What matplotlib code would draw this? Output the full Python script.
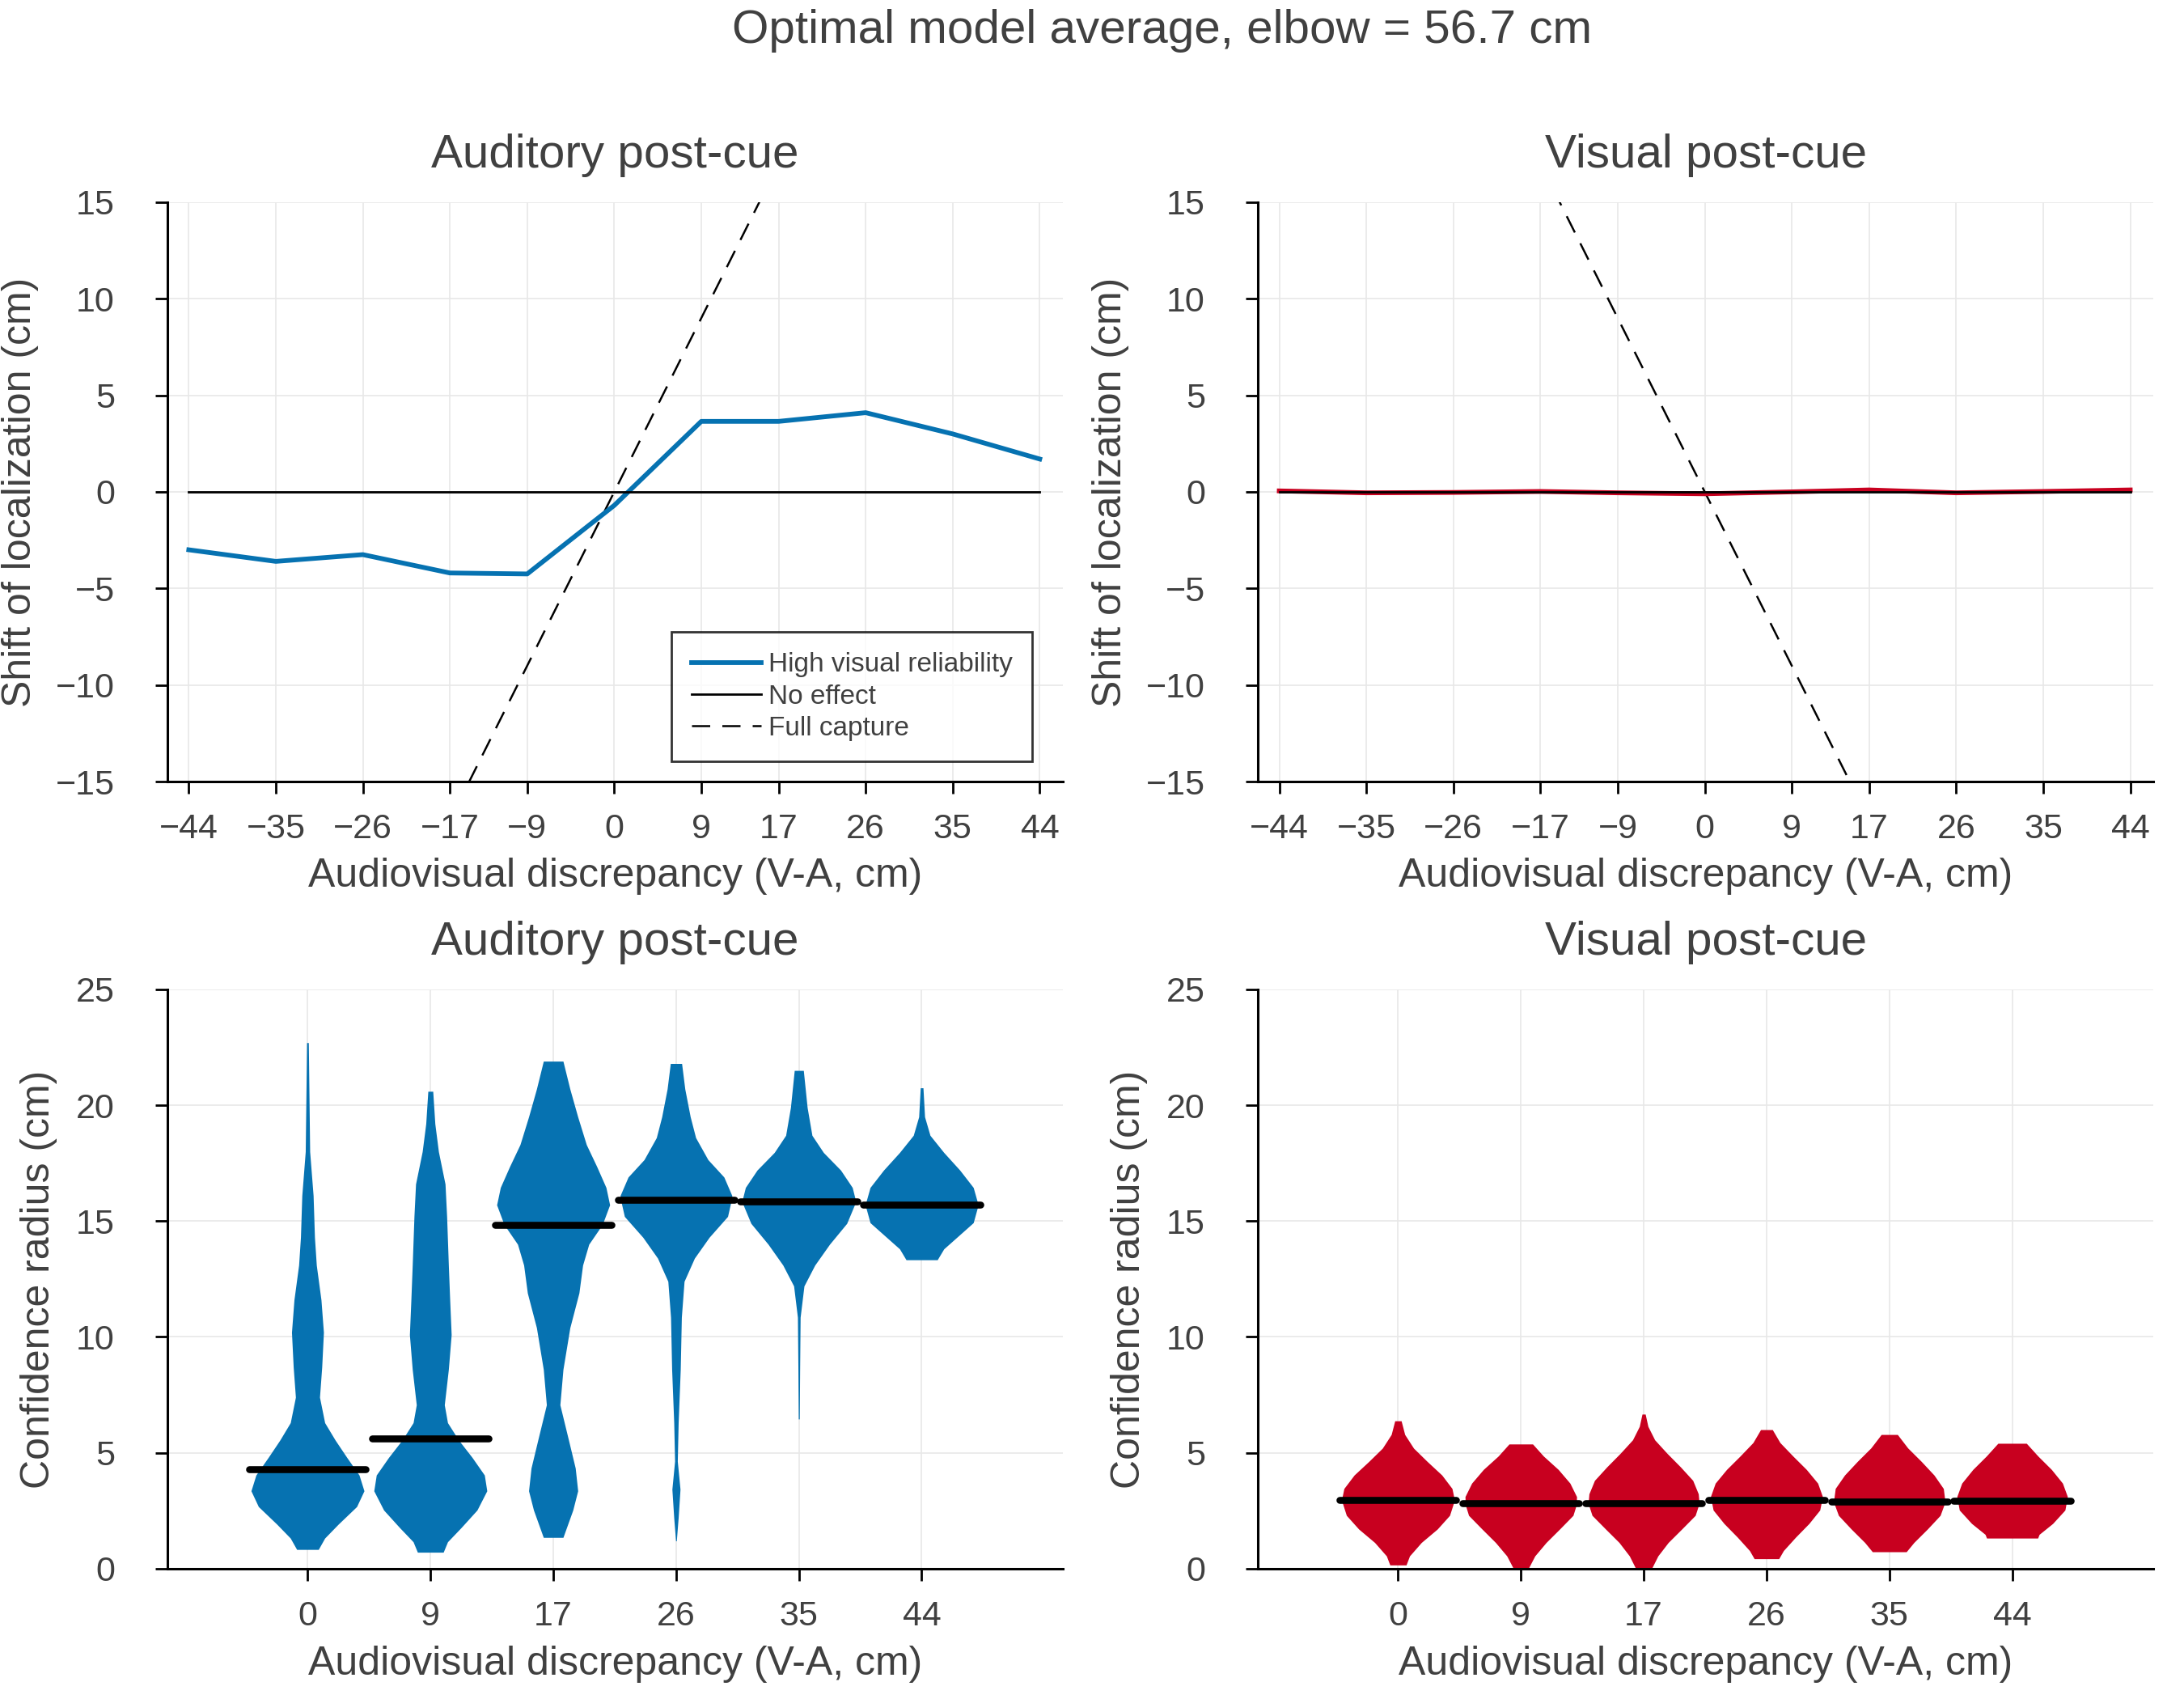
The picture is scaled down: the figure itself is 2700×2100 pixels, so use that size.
import numpy as np
import matplotlib
matplotlib.use("Agg")
import matplotlib.pyplot as plt

plt.rcParams['font.family'] = ['Liberation Sans', 'DejaVu Sans']

# --- data ---
discrepancy = [-44, -35, -26, -17, -9, 0, 9, 17, 26, 35, 44]
shift_aud = [-3.0, -3.6, -3.25, -4.2, -4.25, -0.7, 3.65, 3.65, 4.1, 3.0, 1.7]
shift_vis = [0.05, -0.05, -0.03, 0.02, -0.05, -0.1, 0.0, 0.1, -0.05, 0.02, 0.1]

violin_labels = ['0', '9', '17', '26', '35', '44']

# violin outlines: confidence radius levels and half widths (in x units)
aud_y = [
    [0.83, 1.32, 1.92, 2.68, 3.36, 4.04, 4.8, 5.55, 6.3, 7.4, 8.7, 10.2, 11.6, 13.1, 14.3, 16.1, 18.0, 22.7],
    [0.71, 1.16, 1.77, 2.53, 3.36, 4.04, 4.8, 5.55, 6.3, 7.07, 8.6, 10.1, 11.6, 13.1, 15.2, 16.6, 18.0, 19.2, 20.6],
    [1.35, 2.53, 3.36, 4.34, 5.55, 7.07, 8.6, 10.4, 11.9, 13.1, 14.0, 14.85, 15.7, 16.45, 17.35, 18.3, 19.5, 20.7, 21.9],
    [1.2, 2.2, 3.43, 4.64, 6.3, 8.6, 10.85, 12.4, 13.4, 14.3, 15.2, 15.9, 16.1, 16.9, 17.65, 18.6, 19.5, 20.7, 21.8],
    [6.46, 8.6, 10.85, 12.2, 13.1, 14.0, 14.9, 15.84, 16.45, 17.2, 17.96, 18.7, 19.9, 21.5],
    [13.33, 13.8, 14.6, 14.93, 15.7, 16.45, 17.2, 17.96, 18.7, 19.5, 20.75],
]
aud_w = [
    [0.088, 0.14, 0.25, 0.40, 0.46, 0.42, 0.32, 0.225, 0.14, 0.098, 0.116, 0.13, 0.11, 0.072, 0.057, 0.046, 0.018, 0.007],
    [0.105, 0.14, 0.25, 0.38, 0.46, 0.44, 0.34, 0.23, 0.14, 0.114, 0.147, 0.17, 0.158, 0.147, 0.133, 0.12, 0.066, 0.037, 0.02],
    [0.08, 0.16, 0.2, 0.18, 0.125, 0.055, 0.08, 0.136, 0.21, 0.24, 0.29, 0.40, 0.46, 0.43, 0.355, 0.27, 0.2, 0.136, 0.08],
    [0.003, 0.018, 0.033, 0.011, 0.018, 0.035, 0.044, 0.066, 0.15, 0.27, 0.42, 0.45, 0.455, 0.39, 0.26, 0.16, 0.116, 0.072, 0.046],
    [0.004, 0.007, 0.011, 0.042, 0.13, 0.25, 0.39, 0.464, 0.435, 0.34, 0.2, 0.107, 0.068, 0.037],
    [0.127, 0.18, 0.35, 0.42, 0.46, 0.42, 0.31, 0.18, 0.068, 0.024, 0.011],
]
vis_y = [
    [0.16, 0.55, 1.13, 1.71, 2.3, 2.96, 3.46, 4.04, 4.63, 5.2, 5.79, 6.38],
    [0.0, 0.55, 1.13, 1.71, 2.3, 2.76, 3.11, 3.69, 4.28, 4.86, 5.38],
    [0.0, 0.55, 1.13, 1.71, 2.3, 2.82, 3.23, 3.81, 4.39, 4.98, 5.56, 6.14, 6.67],
    [0.43, 0.78, 1.36, 1.95, 2.53, 3.11, 3.69, 4.28, 4.86, 5.44, 6.0],
    [0.73, 1.13, 1.71, 2.3, 2.88, 3.46, 4.04, 4.63, 5.21, 5.79],
    [1.32, 1.48, 1.95, 2.53, 3.11, 3.69, 4.28, 4.86, 5.41],
]
vis_w = [
    [0.066, 0.094, 0.19, 0.32, 0.42, 0.46, 0.44, 0.357, 0.237, 0.127, 0.055, 0.026],
    [0.06, 0.114, 0.206, 0.316, 0.425, 0.452, 0.454, 0.40, 0.305, 0.184, 0.096],
    [0.064, 0.116, 0.2, 0.31, 0.42, 0.452, 0.445, 0.40, 0.30, 0.19, 0.09, 0.035, 0.013],
    [0.10, 0.138, 0.237, 0.346, 0.434, 0.456, 0.417, 0.325, 0.215, 0.11, 0.048],
    [0.138, 0.2, 0.31, 0.414, 0.454, 0.44, 0.364, 0.26, 0.15, 0.066],
    [0.208, 0.22, 0.33, 0.43, 0.45, 0.41, 0.32, 0.21, 0.116],
]
aud_mean = [4.3, 5.61, 14.85, 15.9, 15.84, 15.7]
vis_mean = [2.96, 2.81, 2.82, 2.98, 2.88, 2.93]

blue = '#0672B1'
red = '#C8001F'
grey_txt = '#404040'

fig = plt.figure(figsize=(27, 21), dpi=100)
axes = [
    fig.add_axes([0.0767, 0.540, 0.410, 0.341]),
    fig.add_axes([0.576, 0.540, 0.410, 0.341]),
    fig.add_axes([0.0767, 0.0767, 0.410, 0.341]),
    fig.add_axes([0.576, 0.0767, 0.410, 0.341]),
]

def style(ax):
    for s in ['top', 'right']:
        ax.spines[s].set_visible(False)
    for s in ['left', 'bottom']:
        ax.spines[s].set_linewidth(2.2)
    ax.grid(True, color='#e8e8e8', lw=1.2)
    ax.set_axisbelow(True)
    ax.tick_params(length=11, width=2, labelsize=31, labelcolor=grey_txt)
    ax.tick_params(axis='x', pad=17)
    ax.tick_params(axis='y', pad=36)

# top row: shift of localization
for ax, shift, col, title, sign in [(axes[0], shift_aud, blue, 'Auditory post-cue', 1),
                                     (axes[1], shift_vis, red, 'Visual post-cue', -1)]:
    style(ax)
    xs = np.array([-60, 60])
    ax.plot(discrepancy, shift, color=col, lw=4.2, label='High visual reliability', zorder=3)
    ax.plot([discrepancy[0], discrepancy[-1]], [0, 0], color='black', lw=2, label='No effect', zorder=4)
    ax.plot(xs, sign * xs, color='black', lw=1.8, dashes=(9, 6), label='Full capture', zorder=2)
    ax.set_xlim(-46.2, 46.4)
    ax.set_ylim(-15, 15)
    ax.set_xticks(discrepancy)
    ax.set_yticks([-15, -10, -5, 0, 5, 10, 15])
    ax.set_title(title, fontsize=42, color=grey_txt, pad=31)
    ax.set_xlabel('Audiovisual discrepancy (V-A, cm)', fontsize=36, color=grey_txt)
    ax.set_ylabel('Shift of localization (cm)', fontsize=36, color=grey_txt)
    ax.xaxis.set_label_coords(0.5, -0.131)
    ax.yaxis.set_label_coords(-0.144, 0.5)

leg = axes[0].legend(loc='lower right', bbox_to_anchor=(0.966, 0.035), borderaxespad=0,
                     fontsize=24, frameon=True, fancybox=False, edgecolor='black',
                     handlelength=2.6, handletextpad=0.25, labelspacing=0.25, borderpad=0.75)
leg.get_frame().set_linewidth(2)
for t in leg.get_texts():
    t.set_color(grey_txt)

# bottom row: violins of confidence radius
for ax, ys, ws, means, col, title in [(axes[2], aud_y, aud_w, aud_mean, blue, 'Auditory post-cue'),
                                      (axes[3], vis_y, vis_w, vis_mean, red, 'Visual post-cue')]:
    style(ax)
    for i in range(len(violin_labels)):
        pos = i + 1
        y = np.array(ys[i])
        w = np.array(ws[i])
        ax.fill_betweenx(y, pos - w, pos + w, color=col, lw=0, zorder=2)
        ax.plot([pos - 0.475, pos + 0.475], [means[i], means[i]], color='black', lw=6.2,
                solid_capstyle='round', zorder=3)
    ax.set_xlim(-0.14, 7.15)
    ax.set_ylim(0, 25)
    ax.set_xticks(range(1, len(violin_labels) + 1))
    ax.set_xticklabels(violin_labels)
    ax.set_yticks([0, 5, 10, 15, 20, 25])
    ax.set_title(title, fontsize=42, color=grey_txt, pad=31)
    ax.set_xlabel('Audiovisual discrepancy (V-A, cm)', fontsize=36, color=grey_txt)
    ax.set_ylabel('Confidence radius (cm)', fontsize=36, color=grey_txt)
    ax.xaxis.set_label_coords(0.5, -0.133)
    ax.yaxis.set_label_coords(-0.123, 0.5)

fig.text(0.532, 0.982, 'Optimal model average, elbow = 56.7 cm', ha='center', va='center',
         fontsize=42, color=grey_txt)

fig.savefig('out.png', dpi=100)
